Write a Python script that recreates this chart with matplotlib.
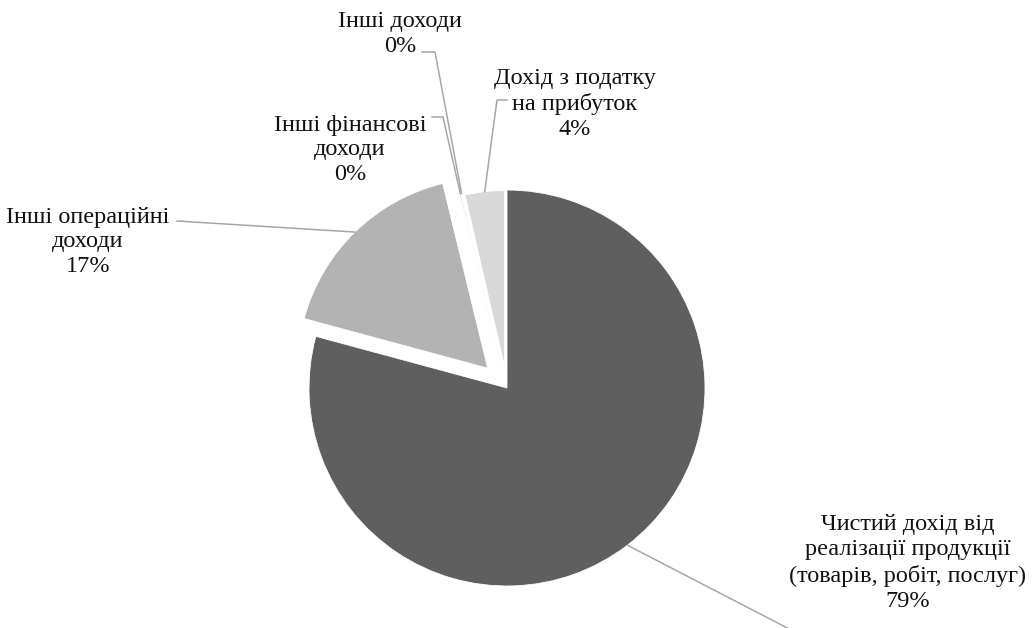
import numpy as np
import matplotlib
matplotlib.use('Agg')
import matplotlib.pyplot as plt

# Revenue structure, %
names = [
    "Чистий дохід від\nреалізації продукції\n(товарів, робіт, послуг)",
    "Інші операційні\nдоходи",
    "Інші фінансові\nдоходи",
    "Інші доходи",
    "Дохід з податку\nна прибуток",
]
shares = [79.2, 17.0, 0.1, 0.1, 3.6]

colors = ['#5f5f5f', '#b3b3b3', '#8c8c8c', '#efefef', '#d9d9d9']
explode = [0, 0.14, 0.12, 0.12, 0.108]   # fraction of radius
shrink = [1.0, 0.96, 0.89, 0.89, 0.89]

W, H = 1032, 628
fig = plt.figure(figsize=(W / 100, H / 100), dpi=100)
ax = fig.add_axes([0, 0, 1, 1])

R = 198
cx, cy = 507, H - 388
wedges, _ = ax.pie(shares, colors=colors, explode=[e * R for e in explode],
                   startangle=90, counterclock=False, radius=R, center=(cx, cy),
                   wedgeprops=dict(edgecolor='white', linewidth=0.6))
for w, k in zip(wedges, shrink):
    w.set_radius(R * k)

ax.set_xlim(0, W)
ax.set_ylim(0, H)
ax.set_aspect('auto')
ax.axis('off')

# label placement (pixel coords, y from top)
label_pos = [(908, 563), (88, 242), (350, 150), (400, 34), (575, 104)]
leader_pts = [
    [(797, 633)],
    [(177, 221)],
    [(432, 117), (443, 117)],
    [(422, 52), (435, 52)],
    [(507, 100), (497, 100)],
]

total = sum(shares)
font = ['Liberation Serif', 'DejaVu Serif']
for i, w in enumerate(wedges):
    pct = round(shares[i] / total * 100)
    lx, ly = label_pos[i]
    ax.text(lx, H - ly, f"{names[i]}\n{pct}%", ha='center', va='center',
            multialignment='center', fontsize=17.5, family=font,
            color='#111111', linespacing=1.25)

    mid = np.deg2rad((w.theta1 + w.theta2) / 2)
    ax_ = w.center[0] + w.r * np.cos(mid)
    ay_ = w.center[1] + w.r * np.sin(mid)
    pts = [(x, H - y) for x, y in leader_pts[i]]
    if i == 0:
        pts = [(ax_, ay_)] + pts
    else:
        pts = pts + [(ax_, ay_)]
    xs, ys = zip(*pts)
    ax.plot(xs, ys, color='#a6a6a6', lw=1.1, clip_on=True)

plt.savefig('out.png', dpi=100, facecolor='white')
